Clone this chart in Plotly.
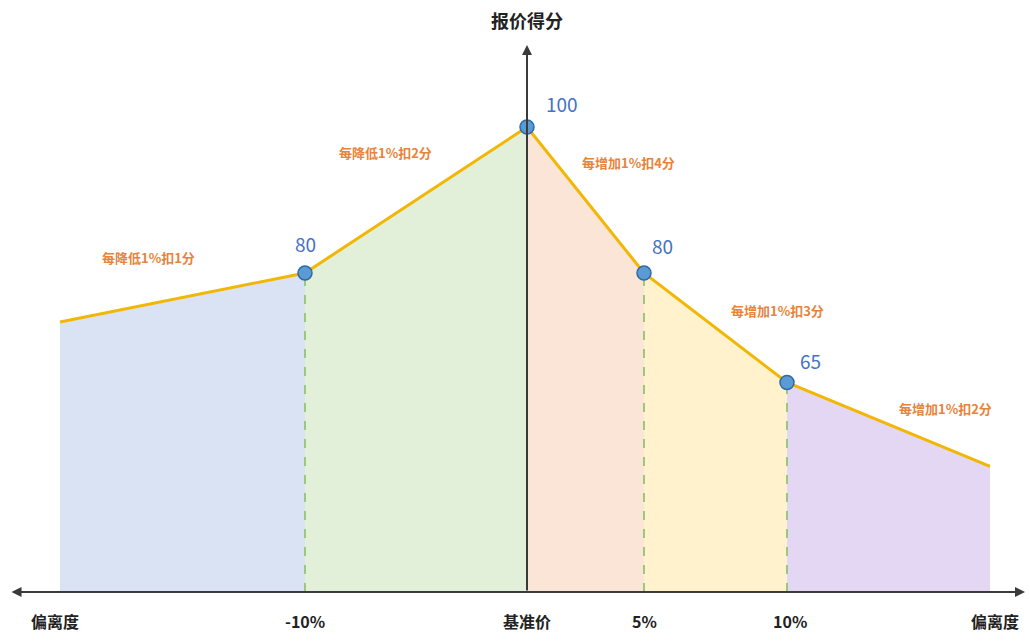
import plotly.graph_objects as go

# schematic x positions of the break points (left end, -10%, base, 5%, 10%, right end)
x_pos = [60, 305, 527, 644, 787, 990]
scores = [73.3, 80, 100, 80, 65, 53.5]
tick_labels = ["偏离度", "-10%", "基准价", "5%", "10%", "偏离度"]
segment_rules = ["每降低1%扣1分", "每降低1%扣2分", "每增加1%扣4分", "每增加1%扣3分", "每增加1%扣2分"]
segment_colors = ["#dae3f3", "#e2efd9", "#fbe5d6", "#fff2cc", "#e4d7f4"]
point_idx = [1, 2, 3, 4]  # break points with markers
baseline = 36.3

W, H = 1030, 642
y_top, y_bot = 117.4, 29.45

def py(p):
    return y_top - (y_top - y_bot) * p / H

fig = go.Figure()
font = "Noto Sans CJK SC"

# coloured areas
for i in range(5):
    fig.add_trace(go.Scatter(
        x=[x_pos[i], x_pos[i], x_pos[i + 1], x_pos[i + 1], x_pos[i]],
        y=[baseline, scores[i], scores[i + 1], baseline, baseline],
        fill="toself", fillcolor=segment_colors[i], mode="none",
        hoverinfo="skip", showlegend=False))

# dashed guides
for i in [1, 3, 4]:
    fig.add_trace(go.Scatter(x=[x_pos[i], x_pos[i]], y=[baseline, scores[i]],
                             mode="lines", line=dict(color="#9cc77f", width=2, dash="dash"),
                             hoverinfo="skip", showlegend=False))

# score line
fig.add_trace(go.Scatter(x=x_pos, y=scores, mode="lines",
                         line=dict(color="#f2b705", width=3), showlegend=False))

# axes
fig.add_annotation(x=1025, y=baseline, ax=10, ay=baseline, xref="x", yref="y",
                   axref="x", ayref="y", showarrow=True, arrowhead=2, arrowside="end+start",
                   arrowsize=1, arrowwidth=2, arrowcolor="#3a3a3a", text="")
fig.add_annotation(x=x_pos[2], y=py(45), ax=x_pos[2], ay=baseline, xref="x", yref="y",
                   axref="x", ayref="y", showarrow=True, arrowhead=2,
                   arrowsize=1, arrowwidth=2, arrowcolor="#3a3a3a", text="")

# points
fig.add_trace(go.Scatter(x=[x_pos[i] for i in point_idx], y=[scores[i] for i in point_idx],
                         mode="markers",
                         marker=dict(size=14, color="#5b9bd5", line=dict(color="#2f6aa3", width=1.5)),
                         showlegend=False))

# value labels
shifts = {1: (0, 30), 2: (35, 24), 3: (18, 28), 4: (23, 22)}
for i in point_idx:
    dx, dy = shifts[i]
    fig.add_annotation(x=x_pos[i], y=scores[i], text=f"{scores[i]:g}", showarrow=False,
                       xshift=dx, yshift=dy, font=dict(family=font, size=19, color="#4472c4"))

# rule labels
rule_px = [(148, 257), (385, 152), (628, 162), (777, 310), (945, 408)]
for t, (px_, pyy) in zip(segment_rules, rule_px):
    fig.add_annotation(x=px_, y=py(pyy), text=f"<b>{t}</b>", showarrow=False,
                       font=dict(family=font, size=13, color="#e8833a"))

# tick labels
tick_x = [55, 305, 527, 644, 790, 995]
for t, tx in zip(tick_labels, tick_x):
    fig.add_annotation(x=tx, y=py(621), text=f"<b>{t}</b>", showarrow=False,
                       font=dict(family=font, size=16, color="#222222"))

fig.add_annotation(x=x_pos[2], y=py(20), text="<b>报价得分</b>", showarrow=False,
                   font=dict(family=font, size=18, color="#222222"))

fig.update_layout(width=W, height=H, margin=dict(l=0, r=0, t=0, b=0),
                  paper_bgcolor="white", plot_bgcolor="white",
                  xaxis=dict(range=[0, W], visible=False, fixedrange=True),
                  yaxis=dict(range=[y_bot, y_top], visible=False, fixedrange=True))

fig.write_html("out.html")
